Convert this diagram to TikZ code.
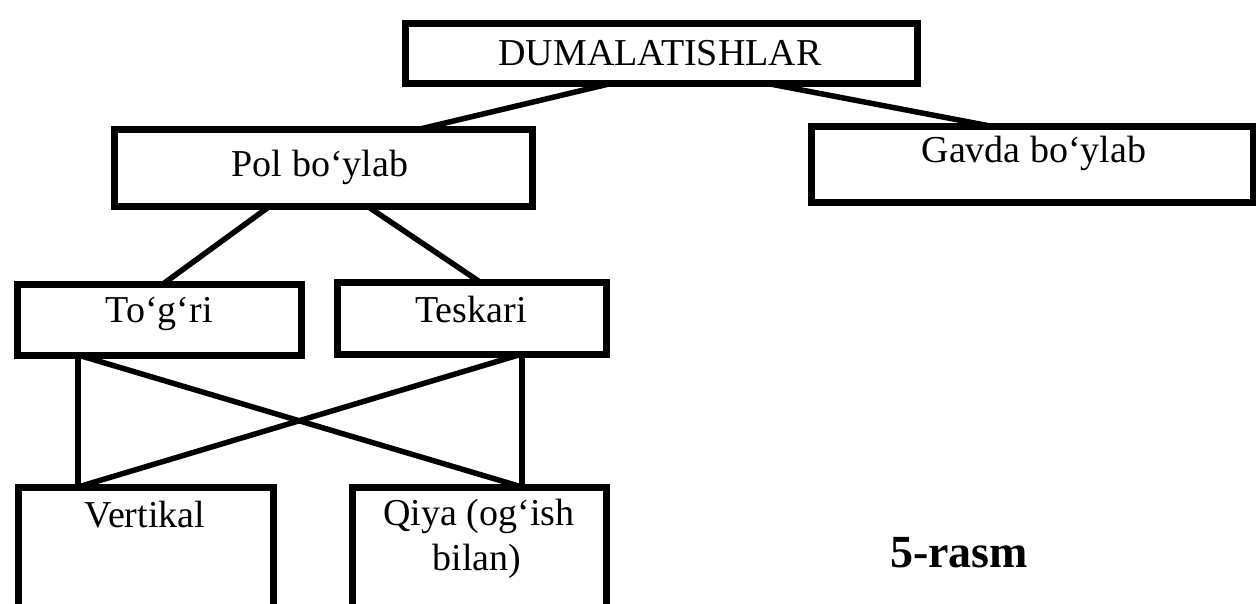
\documentclass[tikz,border=0pt]{standalone}
\usepackage{fontspec}
\setmainfont{Liberation Serif}
\begin{document}
\begin{tikzpicture}[x=1pt,y=-1pt,
  box/.style={draw=black, line width=7pt, rectangle, inner sep=0pt, outer sep=0pt},
  conn/.style={draw=black, line width=5.5pt},
  lbl/.style={font=\fontsize{38}{45}\selectfont, inner sep=0pt, anchor=base},
  figcaption/.style={font=\fontsize{46}{50}\selectfont\bfseries, inner sep=0pt, anchor=base}]
\fill[white] (0,0) rectangle (1256,603);
\useasboundingbox (0,0) rectangle (1256,603);
\clip (0,0) rectangle (1256,603);

% boxes (centre-line coordinates)
\node[box, minimum width=512pt, minimum height=60pt] (top) at (661,53) {};
\node[box, minimum width=418pt, minimum height=77pt] (pol) at (323,167.5) {};
\node[box, minimum width=442pt, minimum height=76pt] (gavda) at (1032,164) {};
\node[box, minimum width=284pt, minimum height=71pt] (togri) at (159,319.5) {};
\node[box, minimum width=269pt, minimum height=72pt] (teskari) at (471.5,318) {};
\node[box, minimum width=255pt, minimum height=153pt] (vert) at (145.5,563.5) {};
\node[box, minimum width=254pt, minimum height=153pt] (qiya) at (479,563.5) {};

% texts
\node[lbl] (top-t) at (660,65) {DUMALATISHLAR};
\node[lbl] (pol-t) at (320,176) {Pol bo‘ylab};
\node[lbl] (gavda-t) at (1034,162) {Gavda bo‘ylab};
\node[lbl] (togri-t) at (159,322) {To‘g‘ri};
\node[lbl] (teskari-t) at (471,322) {Teskari};
\node[lbl] (vert-t) at (145,527) {Vertikal};
\node[lbl] (qiya-t1) at (479,525) {Qiya (og‘ish};
\node[lbl] (qiya-t2) at (477,570) {bilan)};
\node[figcaption] (rasm) at (959,567) {5-rasm};

% connectors
\draw[conn] ([xshift=-48pt]top.south) -- ([xshift=97pt]pol.north);
\draw[conn] ([xshift=104pt]top.south) -- ([xshift=-42pt]gavda.north);
\draw[conn] ([xshift=-53pt]pol.south) -- ([xshift=4pt]togri.north);
\draw[conn] ([xshift=44pt]pol.south) -- ([xshift=8.5pt]teskari.north);
\draw[conn] ([xshift=-81pt]togri.south) -- ([xshift=-67.5pt]vert.north);
\draw[conn] ([xshift=50.5pt]teskari.south) -- ([xshift=43pt]qiya.north);
\draw[conn] ([xshift=-81pt]togri.south) -- ([xshift=43pt]qiya.north);
\draw[conn] ([xshift=50.5pt]teskari.south) -- ([xshift=-67.5pt]vert.north);
\end{tikzpicture}
\end{document}
